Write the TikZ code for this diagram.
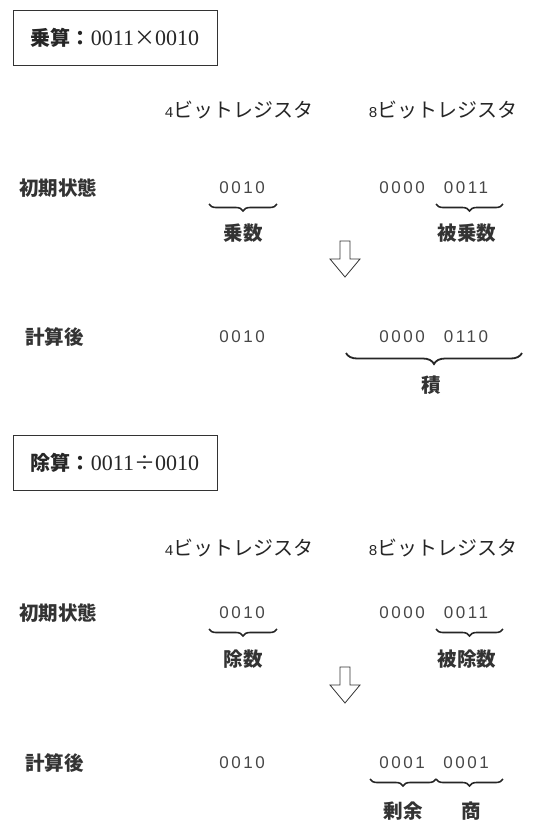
\documentclass[tikz,border=0pt]{standalone}
\usepackage{fontspec}
\usetikzlibrary{decorations.pathreplacing}
\newfontfamily\jp{Noto Sans CJK JP}
\newfontfamily\numf[LetterSpace=15]{Liberation Sans}
\newfontfamily\serf{Liberation Serif}
\newfontfamily\regnum{Liberation Mono}
\tikzset{
  titlebox/.style={draw=black!80, line width=0.9pt, minimum width=204pt, minimum height=55pt, inner sep=0pt},
  lbl/.style={font=\jp\bfseries\fontsize{19.5}{20}\selectfont, text=black!80, inner sep=0pt},
  reg/.style={font=\jp\fontsize{20}{20}\selectfont, text=black!85, inner sep=0pt},
  num/.style={font=\numf\fontsize{17}{17}\selectfont, text=black!72, inner sep=0pt},
  brc/.style={decorate, decoration={brace, mirror, amplitude=7pt}, line width=1.6pt, draw=black!85},
  bigbrc/.style={decorate, decoration={brace, mirror, amplitude=11pt}, line width=1.8pt, draw=black!85},
  hollow/.style={draw=black!80, line width=0.8pt, fill=white}
}
\newcommand{\regdigit}[1]{{\regnum\fontsize{15}{15}\selectfont #1}}
\newcommand{\opsym}[1]{{\jp\fontsize{21}{21}\selectfont #1}}
\begin{document}
\begin{tikzpicture}[x=1pt,y=-1pt]
\useasboundingbox (0,0) rectangle (533,823);

% ---------- Section 1: multiplication ----------
\node[titlebox] (t1) at (115,38) {};
\node[inner sep=0pt, text=black!85] (t1txt) at (t1.center) {{\jp\bfseries\fontsize{20}{20}\selectfont 乗算：}{\serf\fontsize{22}{22}\selectfont 0011\opsym{×}0010}};

\node[reg] (r4a) at (239,110) {\regdigit{4}ビットレジスタ};
\node[reg] (r8a) at (443,110) {\regdigit{8}ビットレジスタ};

\node[lbl, anchor=west] (inita) at (19,188) {初期状態};
\node[num] (a1) at (242,188) {0010};
\node[num] (a2) at (402,188) {0000};
\node[num] (a3) at (466,188) {0011};

\coordinate (ba1l) at (209,204); \coordinate (ba1r) at (277,204);
\coordinate (ba2l) at (436,204); \coordinate (ba2r) at (503,204);
\draw[brc] (ba1l) -- (ba1r);
\draw[brc] (ba2l) -- (ba2r);
\node[lbl] (jousuu) at (243,233) {乗数};
\node[lbl] (hijousuu) at (467,233) {被乗数};

\draw[hollow] (340,241) -- (350,241) -- (350,259) -- (360,259) -- (345,277) -- (330,259) -- (340,259) -- cycle;

\node[lbl, anchor=west] (aftera) at (25,337) {計算後};
\node[num] (c1) at (242,337) {0010};
\node[num] (c2) at (402,337) {0000};
\node[num] (c3) at (466,337) {0110};

\coordinate (bpl) at (346,353); \coordinate (bpr) at (522,353);
\draw[bigbrc] (bpl) -- (bpr);
\node[lbl] (seki) at (431,385) {積};

% ---------- Section 2: division ----------
\node[titlebox] (t2) at (115,463) {};
\node[inner sep=0pt, text=black!85] (t2txt) at (t2.center) {{\jp\bfseries\fontsize{20}{20}\selectfont 除算：}{\serf\fontsize{22}{22}\selectfont 0011\opsym{÷}0010}};

\node[reg] (r4b) at (239,548) {\regdigit{4}ビットレジスタ};
\node[reg] (r8b) at (443,548) {\regdigit{8}ビットレジスタ};

\node[lbl, anchor=west] (initb) at (19,613) {初期状態};
\node[num] (d1) at (242,613) {0010};
\node[num] (d2) at (402,613) {0000};
\node[num] (d3) at (466,613) {0011};

\coordinate (bb1l) at (209,629); \coordinate (bb1r) at (277,629);
\coordinate (bb2l) at (436,629); \coordinate (bb2r) at (503,629);
\draw[brc] (bb1l) -- (bb1r);
\draw[brc] (bb2l) -- (bb2r);
\node[lbl] (josuu) at (243,659) {除数};
\node[lbl] (hijosuu) at (467,659) {被除数};

\draw[hollow] (340,667) -- (350,667) -- (350,685) -- (360,685) -- (345,703) -- (330,685) -- (340,685) -- cycle;

\node[lbl, anchor=west] (afterb) at (25,763) {計算後};
\node[num] (e1) at (242,763) {0010};
\node[num] (e2) at (402,763) {0001};
\node[num] (e3) at (466,763) {0001};

\coordinate (bc1l) at (370,779); \coordinate (bc1m) at (436,779); \coordinate (bc2r) at (503,779);
\draw[brc] (bc1l) -- (bc1m);
\draw[brc] (bc1m) -- (bc2r);
\node[lbl] (jouyo) at (403,811) {剰余};
\node[lbl] (shou) at (471,811) {商};
\end{tikzpicture}
\end{document}
